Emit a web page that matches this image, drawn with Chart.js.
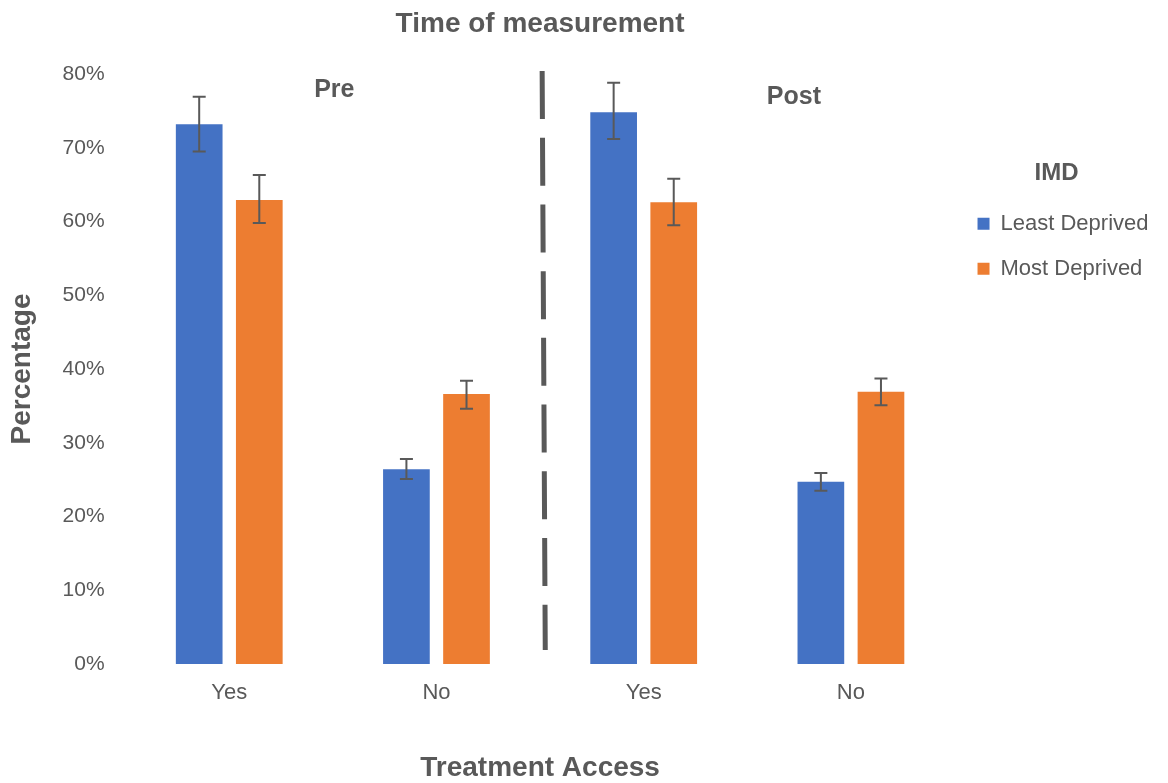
<!DOCTYPE html>
<html>
<head>
<meta charset="utf-8">
<title>Treatment Access by IMD</title>
<script src="https://cdn.jsdelivr.net/npm/chart.js@4.4.1/dist/chart.umd.min.js"></script>
<style>
    body { margin: 0; background: #ffffff; }
    #myChart { display: block; }
</style>
</head>
<body>
<canvas id="myChart" width="1168" height="783"></canvas>
<script>
"use strict";

// categories (treatment access), Pre = first two, Post = last two
let categories = ["Yes", "No", "Yes", "No"];
let phases = ["Pre", "Post"];

// percentages
let leastDeprived = [73.2, 26.4, 74.8, 24.7];
let mostDeprived = [62.9, 36.6, 62.6, 36.9];

// error bar ends
let leastLow = [69.5, 25.1, 71.2, 23.5];
let leastHigh = [76.9, 27.8, 78.8, 25.9];
let mostLow = [59.8, 34.6, 59.5, 35.1];
let mostHigh = [66.3, 38.4, 65.8, 38.7];

let yMax = 80;
let yStep = 10;

let textColor = "#595959";
let fontFamily = "'Liberation Sans', Arial, sans-serif";

/*Plugins*/

// error bars drawn on top of each bar
let errorBars = {
    id: "errorBars",
    afterDatasetsDraw: function (chart) {
        let ctx = chart.ctx;
        let y = chart.scales.y;
        ctx.save();
        ctx.strokeStyle = textColor;
        ctx.lineWidth = 2;
        chart.data.datasets.forEach(function (ds, i) {
            let meta = chart.getDatasetMeta(i);
            meta.data.forEach(function (bar, j) {
                let top = y.getPixelForValue(ds.errHigh[j]);
                let bottom = y.getPixelForValue(ds.errLow[j]);
                ctx.beginPath();
                ctx.moveTo(bar.x, top);
                ctx.lineTo(bar.x, bottom);
                ctx.moveTo(bar.x - 6.5, top);
                ctx.lineTo(bar.x + 6.5, top);
                ctx.moveTo(bar.x - 6.5, bottom);
                ctx.lineTo(bar.x + 6.5, bottom);
                ctx.stroke();
            });
        });
        ctx.restore();
    }
};

// dashed line between Pre and Post plus the phase names
let phaseDivider = {
    id: "phaseDivider",
    afterDatasetsDraw: function (chart) {
        let ctx = chart.ctx;
        let x = chart.scales.x;
        let y = chart.scales.y;
        ctx.save();
        ctx.strokeStyle = textColor;
        ctx.lineWidth = 5;
        ctx.setLineDash([48, 18.7]);
        ctx.beginPath();
        ctx.moveTo(x.getPixelForValue(1.51), y.getPixelForValue(80.4));
        ctx.lineTo(x.getPixelForValue(1.525), y.getPixelForValue(1.9));
        ctx.stroke();
        ctx.setLineDash([]);

        ctx.fillStyle = textColor;
        ctx.font = "bold 25px " + fontFamily;
        ctx.textAlign = "center";
        ctx.textBaseline = "middle";
        ctx.fillText(phases[0], x.getPixelForValue(0.507), y.getPixelForValue(77.8));
        ctx.fillText(phases[1], x.getPixelForValue(2.725), y.getPixelForValue(76.9));
        ctx.restore();
    }
};

let myChart = new Chart(document.getElementById("myChart"), {
    type: "bar",
    data: {
        labels: categories,
        datasets: [
            {
                label: "Least Deprived",
                data: leastDeprived,
                errLow: leastLow,
                errHigh: leastHigh,
                backgroundColor: "#4472C4"
            },
            {
                label: "Most Deprived",
                data: mostDeprived,
                errLow: mostLow,
                errHigh: mostHigh,
                backgroundColor: "#ED7D31"
            }
        ]
    },
    options: {
        responsive: false,
        animation: false,
        categoryPercentage: 0.58,
        barPercentage: 0.777,
        layout: { padding: { left: 0, right: 9.5, top: 0, bottom: 0 } },
        plugins: {
            tooltip: { enabled: false },
            title: {
                display: true,
                fullSize: false,
                text: "Time of measurement",
                color: textColor,
                font: { family: fontFamily, size: 28, weight: "bold" },
                padding: { top: 7, bottom: 33.4 }
            },
            legend: {
                position: "right",
                align: "start",
                title: {
                    display: true,
                    text: "IMD",
                    color: textColor,
                    font: { family: fontFamily, size: 24, weight: "bold" },
                    padding: { top: 161, bottom: 0 }
                },
                labels: {
                    color: textColor,
                    font: { family: fontFamily, size: 22 },
                    boxWidth: 12,
                    boxHeight: 12,
                    padding: 23
                }
            }
        },
        scales: {
            x: {
                grid: { display: false, drawTicks: false },
                border: { display: false },
                ticks: {
                    color: textColor,
                    font: { family: fontFamily, size: 22 },
                    padding: 16
                },
                title: {
                    display: true,
                    text: "Treatment Access",
                    color: textColor,
                    font: { family: fontFamily, size: 28, weight: "bold", lineHeight: 1 },
                    padding: { top: 31.6, bottom: 1 }
                }
            },
            y: {
                min: 0,
                max: yMax,
                grid: { display: false, drawTicks: false },
                border: { display: false },
                ticks: {
                    stepSize: yStep,
                    color: textColor,
                    font: { family: fontFamily, size: 21 },
                    padding: 21,
                    callback: function (v) { return v + "%"; }
                },
                title: {
                    display: true,
                    text: "Percentage",
                    color: textColor,
                    font: { family: fontFamily, size: 28, weight: "bold" },
                    padding: { top: 5, bottom: 3 }
                }
            }
        }
    },
    plugins: [errorBars, phaseDivider]
});
</script>
</body>
</html>
